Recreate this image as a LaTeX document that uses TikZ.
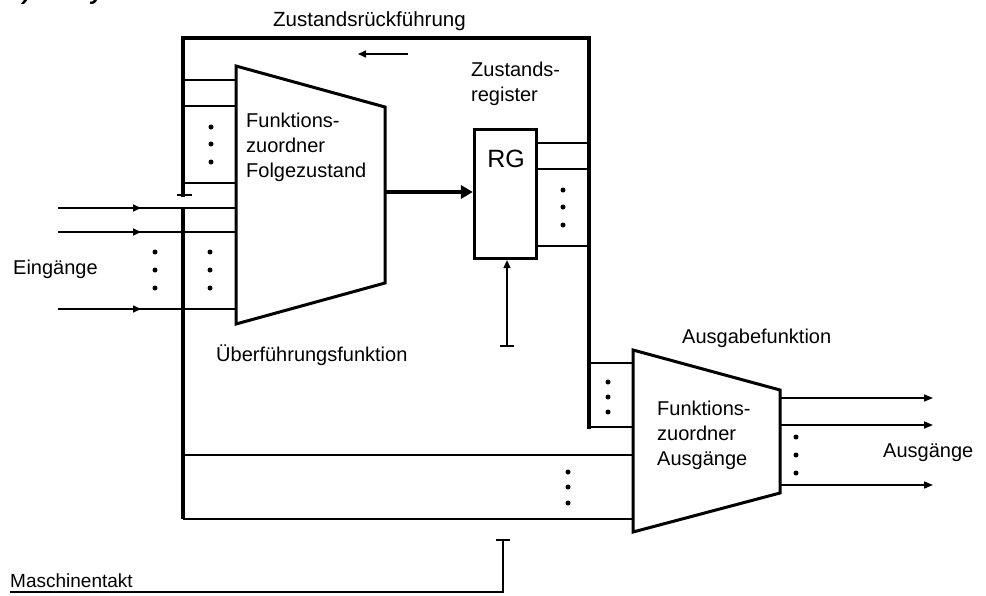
\documentclass[tikz,border=0pt]{standalone}
\usepackage{fontspec}
\setmainfont{Liberation Sans}
\usetikzlibrary{arrows.meta}
\begin{document}
\begin{tikzpicture}[x=1pt,y=-1pt,
  thinline/.style={line width=1.6pt},
  busline/.style={line width=3.8pt},
  boxline/.style={line width=3pt, line join=miter},
  lbl/.style={inner sep=0pt, anchor=base west, font=\fontsize{20}{25}\selectfont},
  multilbl/.style={lbl, align=left},
  dotm/.style={circle, fill=black, inner sep=0pt, minimum size=5pt},
  smalltip/.style={-{Triangle[length=8pt,width=7pt]}},
]
\useasboundingbox (0,0) rectangle (986,595);

% title (cut off at top, as in the reference)
\node[inner sep=0pt, anchor=base west, font=\fontsize{24}{28}\bfseries\itshape\selectfont] (title) at (8,-1) {b) Mealy-Automat};

% ---------- upper trapezoid ----------
\coordinate (A1) at (236,66);
\coordinate (A2) at (385,107);
\coordinate (A3) at (385,283);
\coordinate (A4) at (236,324);
\draw[boxline] (A1) -- (A2) -- (A3) -- (A4) -- cycle;
\node[multilbl] (ftext) at (246,177) {Funktions-\\zuordner\\Folgezustand};

% ---------- register ----------
\node[draw, line width=3.2pt, minimum width=62pt, minimum height=129pt, inner sep=0pt] (RG) at (505.5,194) {};
\node[inner sep=0pt, font=\fontsize{25}{30}\selectfont] (rgtxt) at (506,159) {RG};
\node[multilbl] (zreg) at (471,101) {Zustands-\\register};

% ---------- lower trapezoid ----------
\coordinate (B1) at (633,350);
\coordinate (B2) at (780,390);
\coordinate (B3) at (780,493);
\coordinate (B4) at (633,532);
\draw[boxline] (B1) -- (B2) -- (B3) -- (B4) -- cycle;
\node[multilbl] (atext) at (657,465) {Funktions-\\zuordner\\Ausgänge};

% ---------- feedback bus ----------
\coordinate (LT) at (183,38);
\coordinate (RT) at (589,38);
\coordinate (Lend) at (183,195);
\coordinate (Lstart) at (183,209);
\coordinate (Lbot) at (183,519);
\coordinate (Rbot) at (589,427);
\draw[busline, line cap=rect] (Lend) -- (LT) -- (RT) -- (Rbot);
\draw[line width=2pt] (177,195) -- (192,195);
\draw[busline] (Lstart) -- (Lbot);

\node[lbl, font=\fontsize{20.5}{25}\selectfont] (zrf) at (273,26) {Zustandsrückführung};
\coordinate (fa1) at (408,54);
\coordinate (fa2) at (358,54);
\draw[thinline, smalltip] (fa1) -- (fa2);

% lines from bus into upper trapezoid
\draw[thinline] (183,80) -- (236,80);
\draw[thinline] (183,106) -- (236,106);
\draw[thinline] (183,183) -- (236,183);
\foreach \yy in {127,144,162} \node[dotm] at (211,\yy) {};

% external inputs
\foreach \yy in {208,232,309} {
  \draw[thinline] (58,\yy) -- (236,\yy);
  \draw[thinline, smalltip] (58,\yy) -- (141,\yy);
}
\foreach \yy in {252,270,288} {
  \node[dotm] at (155,\yy) {};
  \node[dotm] at (210,\yy) {};
}
\node[lbl] (ein) at (13,274) {Eingänge};
\node[lbl] (ueb) at (216,361) {Überführungsfunktion};

% thick arrow into register
\coordinate (fo) at (385,192);
\draw[line width=3.5pt, -{Triangle[length=12pt,width=13pt]}] (fo) -- (RG.west |- fo);

% register outputs to bus
\draw[thinline] (538,143) -- (589,143);
\draw[thinline] (538,169) -- (589,169);
\draw[thinline] (538,246) -- (589,246);
\foreach \yy in {190,207,225} \node[dotm] at (563,\yy) {};

% register clock
\coordinate (rc) at (507,346);
\draw[thinline, smalltip] (rc) -- (rc |- RG.south);
\draw[line width=1.8pt] (500,346) -- (514,346);

% ---------- lower inputs ----------
\draw[thinline] (589,363) -- (633,363);
\draw[thinline] (Rbot) -- (633,427);
\foreach \yy in {382,397,412} \node[dotm] at (608,\yy) {};
\draw[thinline] (183,455) -- (633,455);
\draw[thinline] (Lbot) -- (633,519);
\foreach \yy in {472,487,503} \node[dotm] at (568,\yy) {};
\node[lbl] (ausf) at (682,343) {Ausgabefunktion};

% outputs
\foreach \yy in {398,425,485}
  \draw[thinline, -{Triangle[length=9pt,width=7pt]}] (780,\yy) -- (933,\yy);
\foreach \yy in {437,455,473} \node[dotm] at (796,\yy) {};
\node[lbl] (aus) at (883,457) {Ausgänge};

% machine clock
\coordinate (mc1) at (10,592);
\coordinate (mc2) at (503,592);
\coordinate (mc3) at (503,540);
\draw[thinline] (mc1) -- (mc2) -- (mc3);
\draw[line width=1.8pt] (496,540) -- (510,540);
\node[lbl, font=\fontsize{19}{25}\selectfont] (mt) at (10,587) {Maschinentakt};
\end{tikzpicture}
\end{document}
